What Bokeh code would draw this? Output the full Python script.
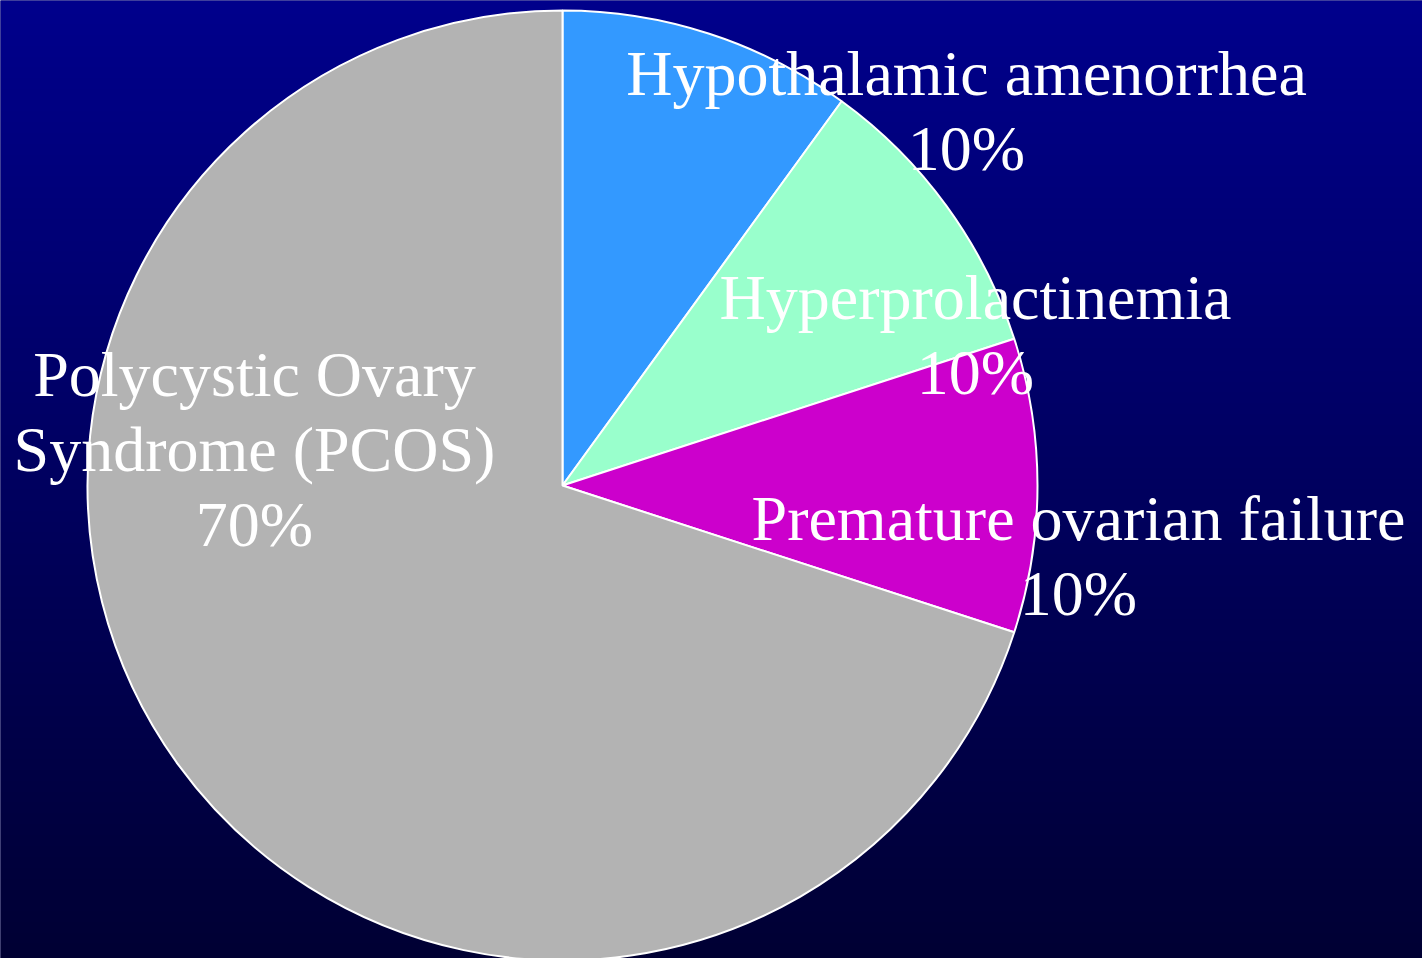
import numpy as np
from bokeh.plotting import figure
from bokeh.models import ColumnDataSource, Range1d
from bokeh.core.properties import value
from bokeh.embed import file_html
from bokeh.resources import INLINE

# ---- data ----
categories = ["Hypothalamic amenorrhea", "Hyperprolactinemia",
              "Premature ovarian failure", "Polycystic Ovary\nSyndrome (PCOS)"]
percents = [10, 10, 10, 70]
colors = ["#3399FF", "#99FFCC", "#CC00CC", "#B3B3B3"]

# ---- layout (page pixel coords of first-line anchor, centered) ----
label_pos = [(966, 73), (975, 297), (1078, 518), (254, 374)]
LINE_H = 75

W, H = 1422, 958

def py(y):
    return H - y

p = figure(width=W, height=H, x_range=Range1d(0, W), y_range=Range1d(0, H),
           output_backend="svg", toolbar_location=None,
           x_axis_location=None, y_axis_location=None, min_border=0)
p.grid.visible = False
p.outline_line_color = None
p.background_fill_color = "#00005F"
p.border_fill_color = "#00005F"

# gradient background
img = np.zeros((H, 2), dtype=np.uint32)
view = img.view(dtype=np.uint8).reshape((H, 2, 4))
for i in range(H):
    page_y = H - i
    b = 140 - 89 * page_y / 958.0
    view[i, :, 2] = int(round(b))
    view[i, :, 3] = 255
p.image_rgba(image=[img], x=-2, y=-2, dw=W + 4, dh=H + 4)

# pie
cx, cy, r = 562, py(485), 475
frac = np.array(percents, dtype=float) / sum(percents)
cum = np.concatenate([[0], np.cumsum(frac)])
starts = np.pi / 2 - cum[1:] * 2 * np.pi
ends = np.pi / 2 - cum[:-1] * 2 * np.pi
src = ColumnDataSource(dict(start=starts, end=ends, color=colors, cat=categories, pct=percents))
p.wedge(x=cx, y=cy, radius=r, start_angle="start", end_angle="end",
        fill_color="color", line_color="white", line_width=2, source=src)

# labels
tx, ty, tt = [], [], []
for cat, pct, (lx, ly) in zip(categories, percents, label_pos):
    lines = cat.split("\n") + [f"{pct}%"]
    for k, ln in enumerate(lines):
        tx.append(lx)
        ty.append(py(ly + k * LINE_H))
        tt.append(ln)
p.text(x=tx, y=ty, text=tt, text_align="center", text_baseline="alphabetic",
       text_color="white", text_font=value("Liberation Serif"), text_font_size="64px")

open("out.html", "w").write(file_html(p, INLINE))
